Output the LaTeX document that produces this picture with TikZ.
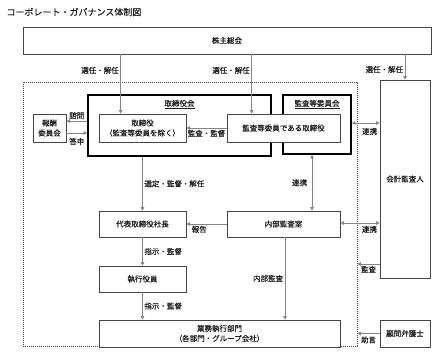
\documentclass[tikz,border=0pt]{standalone}
\usepackage{fontspec}
\setmainfont{Noto Sans CJK JP}[FakeBold=0.4]
\usetikzlibrary{arrows.meta,positioning}
\definecolor{Ink}{HTML}{1E1E1E}
\definecolor{Frame}{HTML}{454545}
\definecolor{Wire}{HTML}{858585}

\begin{document}
\begin{tikzpicture}[
  x=1pt,y=-1pt,
  box/.style={draw=Frame,fill=white,line width=0.7pt,inner sep=0pt,align=center,text=Ink,font=\fontsize{7.5}{10}\selectfont},
  council/.style={draw=black,line width=1.6pt,inner sep=0pt},
  group/.style={draw=Frame,line width=0.7pt,dash pattern=on 1.2pt off 0.8pt,inner sep=0pt},
  lbl/.style={text=Ink,inner sep=1.5pt,font=\fontsize{7.5}{8}\selectfont},
  arrow/.style={-{Triangle[length=3.5pt,width=3.5pt]},draw=Wire,line width=0.8pt},
  both/.style={{Triangle[length=3.5pt,width=3.5pt]}-{Triangle[length=3.5pt,width=3.5pt]},draw=Wire,line width=0.8pt}
]
\useasboundingbox (0,0) rectangle (434,360);
\node[anchor=west,text=Ink,font=\fontsize{9}{10}\selectfont] (title) at (3,12) {コーポレート・ガバナンス体制図};
\node[box,minimum width=408pt,minimum height=27pt] (soukai) at (227,40.5) {株主総会};
% execution side frame
\node[group,minimum width=334pt,minimum height=264pt] (exec) at (190,214) {};
\node[council,minimum width=183pt,minimum height=61pt] (torikai) at (179.5,125.5) {};
\node[council,minimum width=68pt,minimum height=59pt] (kansakai) at (317,124.5) {};
\node[lbl,below=4pt of torikai.north] (torikainame) {\underline{取締役会}};
\node[lbl,below=4pt of kansakai.north] (kansakainame) {\underline{監査等委員会}};
\node[box,minimum width=87pt,minimum height=28pt] (tori) at (142.5,128) {取締役\\（監査等委員を除く）};
\node[box,minimum width=113pt,minimum height=28pt] (kansatori) at (283.5,128) {監査等委員である取締役};
\node[box,minimum width=33pt,minimum height=28pt] (housyu) at (49.5,128) {報酬\\委員会};
\node[box,minimum width=50pt,minimum height=198pt] (kaikei) at (405,179) {会計監査人};
\node[box,minimum width=50pt,minimum height=27pt] (bengoshi) at (405,333.5) {顧問弁護士};
\node[box,minimum width=87pt,minimum height=26pt] (daihyo) at (142.5,224) {代表取締役社長};
\node[box,minimum width=113pt,minimum height=26pt] (naibu) at (283.5,224) {内部監査室};
\node[box,minimum width=87pt,minimum height=26pt] (shikko) at (142.5,279) {執行役員};
\node[box,minimum width=241pt,minimum height=27pt] (gyomu) at (219.5,333.5) {業務執行部門\\（各部門・グループ会社）};
% connectors
\draw[arrow] ([xshift=22pt]tori.north west |- soukai.south) -- ([xshift=22pt]tori.north west) node[lbl,pos=0.27,left] {選任・解任};
\draw[arrow] ([xshift=25pt]kansatori.north west |- soukai.south) -- ([xshift=25pt]kansatori.north west) node[lbl,pos=0.27,left] {選任・解任};
\draw[arrow] (soukai.south -| kaikei.north) -- (kaikei.north) node[lbl,pos=0.6,left] {選任・解任};
\draw[arrow] (kansatori.west) -- (tori.east) node[lbl,midway,below] {監査・監督};
\draw[arrow] ([yshift=7pt]housyu.east -| torikai.west) -- ([yshift=7pt]housyu.east) node[lbl,midway,above] {諮問};
\draw[arrow] ([yshift=-5pt]housyu.east) -- ([yshift=-5pt]housyu.east -| torikai.west) node[lbl,midway,below=3pt] {答申};
\draw[both] ([yshift=1.5pt]kansakai.east) -- ([yshift=1.5pt]kansakai.east -| kaikei.west) node[lbl,pos=0.64,below=3pt] {連携};
\draw[both] ([xshift=-5pt]kansakai.south) -- ([xshift=-5pt]kansakai.south |- naibu.north) node[lbl,midway,left=3pt] {連携};
\draw[arrow] (torikai.south -| daihyo.north) -- (daihyo.north) node[lbl,midway,right] {選定・監督・解任};
\draw[arrow] (naibu.west) -- (daihyo.east) node[lbl,pos=0.68,below] {報告};
\draw[both] ([yshift=1pt]naibu.east) -- ([yshift=1pt]naibu.east -| kaikei.west) node[lbl,pos=0.74,below=1pt] {連携};
\draw[arrow] (daihyo.south) -- (shikko.north) node[lbl,midway,right] {指示・監督};
\draw[arrow] (shikko.south) -- (shikko.south |- gyomu.north) node[lbl,midway,right] {指示・監督};
\draw[arrow] ([xshift=1.5pt]naibu.south) -- ([xshift=1.5pt]naibu.south |- gyomu.north) node[lbl,midway,left] {内部監査};
\draw[arrow] ([yshift=-85pt]kaikei.west) -- ([yshift=-85pt]kaikei.west -| exec.east) node[lbl,midway,below] {監査};
\draw[arrow] (bengoshi.west) -- (bengoshi.west -| exec.east) node[lbl,midway,below=1pt] {助言};
\end{tikzpicture}
\end{document}
